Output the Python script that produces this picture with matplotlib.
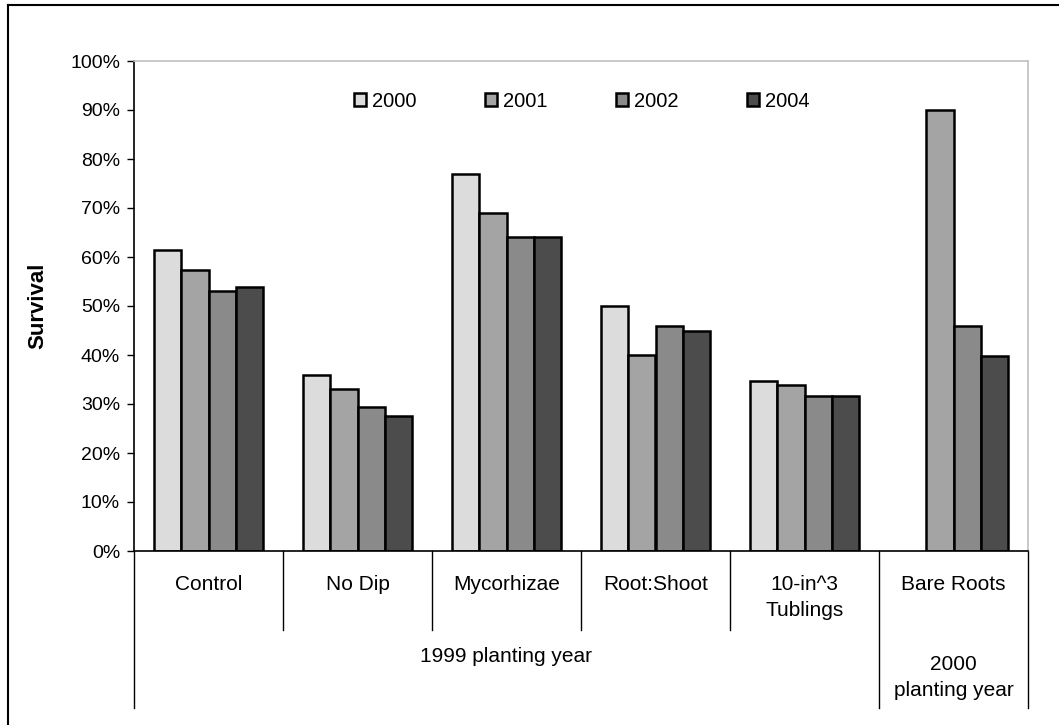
import numpy as np
import matplotlib.pyplot as plt
from matplotlib.lines import Line2D

plt.rcParams['font.family'] = ['Liberation Sans', 'DejaVu Sans']

# donnees (survie en %)
categories = ['Control', 'No Dip', 'Mycorhizae', 'Root:Shoot', '10-in^3\nTublings', 'Bare Roots']
years = ['2000', '2001', '2002', '2004']
s2000 = [61.4, 35.9, 77.0, 50.0, 34.7, np.nan]
s2001 = [57.4, 33.1, 69.0, 40.0, 33.8, 89.9]
s2002 = [53.0, 29.4, 64.0, 46.0, 31.6, 45.9]
s2004 = [53.9, 27.6, 64.0, 45.0, 31.6, 39.8]
groups = ['1999 planting year', '2000\nplanting year']
yticks = [0, 10, 20, 30, 40, 50, 60, 70, 80, 90, 100]

couleurs = ['#dcdcdc', '#a4a4a4', '#8a8a8a', '#4c4c4c']

W, H = 1059, 725
fig = plt.figure(figsize=(W/100, H/100), dpi=100)
ax = fig.add_axes([134/W, (H-551)/H, 894/W, 490/H])

x = np.arange(len(categories))
w = 0.183
series = [s2000, s2001, s2002, s2004]
for k in range(4):
    ax.bar(x + (k-1.5)*w, series[k], w, color=couleurs[k], edgecolor='black',
           linewidth=1.8, label=years[k])

ax.set_xlim(-0.5, 5.5)
ax.set_ylim(0, 100)
ax.set_yticks(yticks)
ax.set_yticklabels([str(t)+'%' for t in yticks], fontsize=14)
ax.tick_params(axis='y', direction='out', length=5, width=1, pad=5)
ax.set_xticks([])
for s in ['top', 'right']:
    ax.spines[s].set_color('#c0c0c0')
    ax.spines[s].set_linewidth(1.2)
ax.spines['left'].set_linewidth(1.2)
ax.spines['bottom'].set_linewidth(1.2)

ax.set_ylabel('Survival', fontsize=16, fontweight='bold', labelpad=16)

# axe des categories (deux niveaux)
tr = ax.get_xaxis_transform()
for b in [0.5, 1.5, 2.5, 3.5]:
    ax.add_line(Line2D([b, b], [0, -0.161], transform=tr, color='black', lw=1, clip_on=False))
for b in [-0.5, 4.5, 5.5]:
    ax.add_line(Line2D([b, b], [0, -0.32], transform=tr, color='black', lw=1, clip_on=False))
for i, c in enumerate(categories):
    ax.text(i, -0.05, c, transform=tr, ha='center', va='top', fontsize=15, linespacing=1.45)
ax.text(2.0, -0.216, groups[0], transform=tr, ha='center', va='center', fontsize=15)
ax.text(5.0, -0.258, groups[1], transform=tr, ha='center', va='center', fontsize=15, linespacing=1.45)

ax.legend(loc='center', bbox_to_anchor=(0.501, 0.918), ncol=4, frameon=False,
          fontsize=14.5, handlelength=0.6, handleheight=0.6, handletextpad=0.3,
          columnspacing=3.4)

# cadre exterieur (seulement haut et gauche visibles)
fig.add_artist(Line2D([8/W, 1], [1-5/H, 1-5/H], transform=fig.transFigure, color='black', lw=1.5))
fig.add_artist(Line2D([8/W, 8/W], [0, 1-5/H], transform=fig.transFigure, color='black', lw=1.5))

fig.savefig('out.png', dpi=100)
